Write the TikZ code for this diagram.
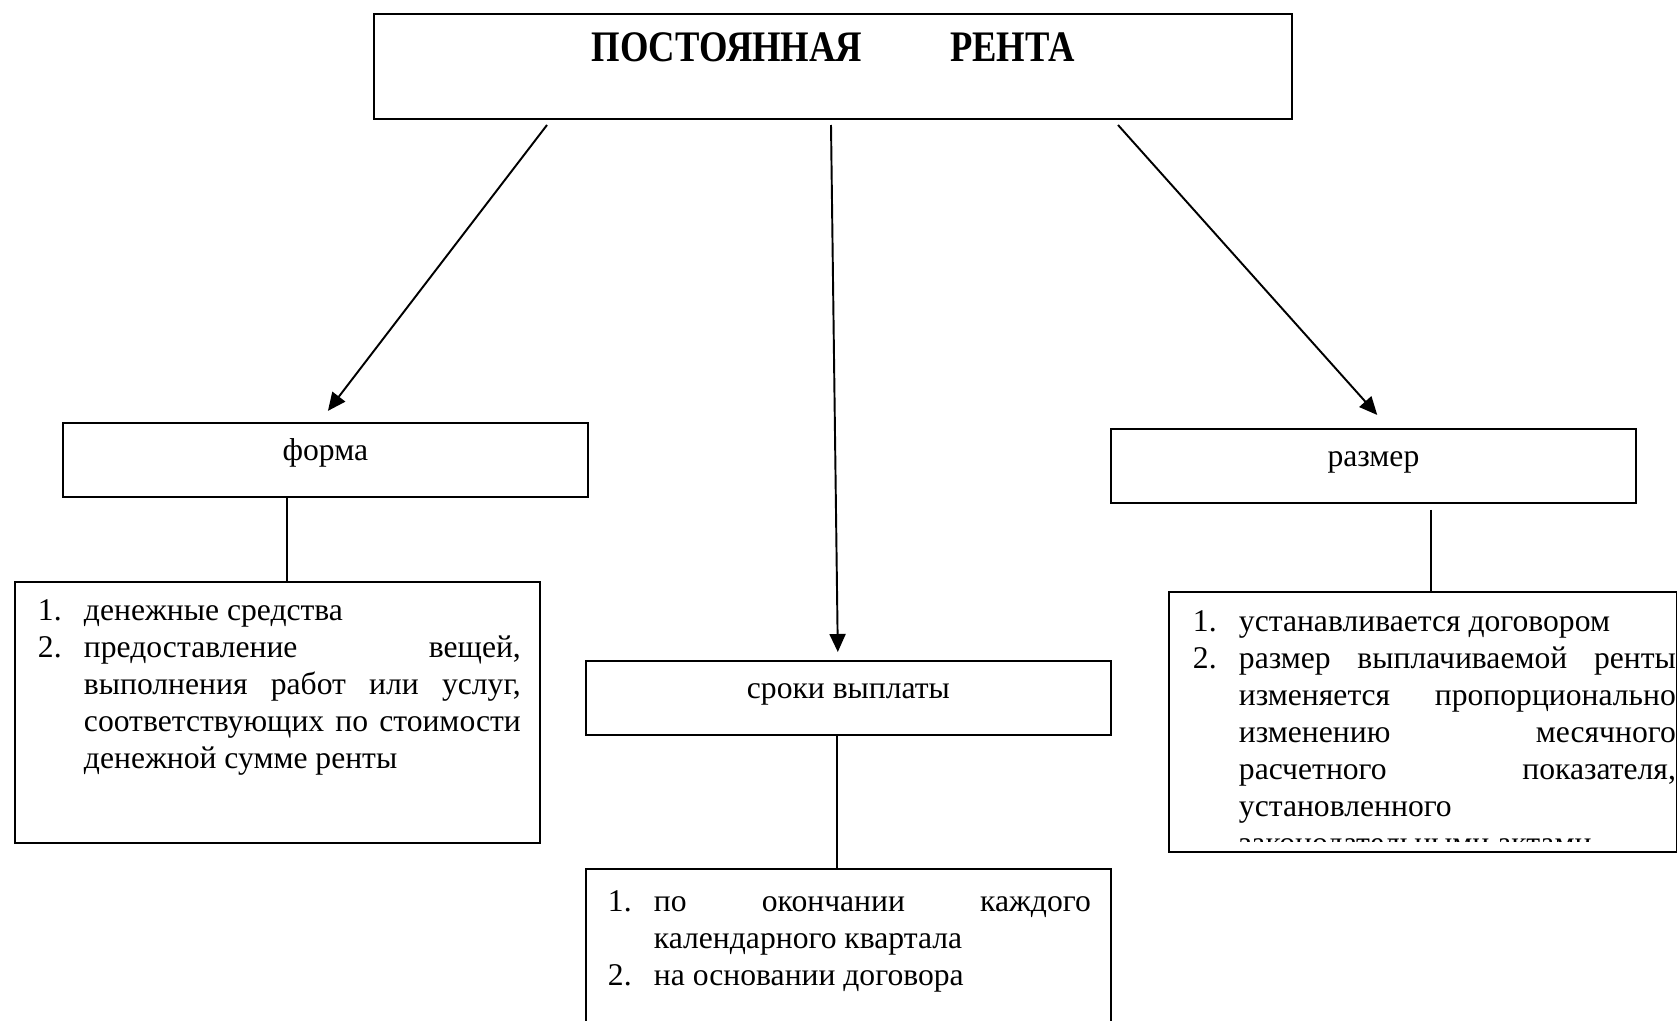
\documentclass[tikz,border=0pt]{standalone}
\usepackage{fontspec}
\setmainfont{Liberation Serif}
\newfontfamily\titlefont[FakeStretch=0.84]{Liberation Serif}
\usetikzlibrary{arrows.meta,calc}

\newcommand{\numitem}[2]{\par\hangindent=0.92cm\hangafter=1\noindent\makebox[0.92cm][l]{#1}#2}
\newcommand{\listtext}[1]{\parbox[t]{9.66cm}{\fontsize{18}{21.06}\selectfont\hyphenpenalty=10000\exhyphenpenalty=10000\tolerance=10000\emergencystretch=2cm #1}}

\begin{document}
\begin{tikzpicture}[x=0.02cm, y=-0.02cm, line width=1.1pt,
	main/.style = {draw, inner sep=0pt, minimum width=10.5cm, text height=0.76cm, text depth=0.72cm, font=\fontsize{18}{21.06}\selectfont},
	box/.style = {draw, inner sep=0pt, minimum width=10.5cm},
	arr/.style = {-{Triangle[length=0.36cm, width=0.32cm]}}]
	\useasboundingbox (0,0) rectangle (1677,1021);
	\node[draw, inner sep=0pt, minimum width=18.36cm, text height=0.96cm, text depth=1.14cm, anchor=north] (1) at (833,13) {\titlefont\fontsize{24.8}{30}\selectfont\bfseries ПОСТОЯННАЯ\hspace{1.76cm}РЕНТА};
	\node[main, anchor=north west] (2) at (62,422) {форма};
	\node[main, anchor=north west] (3) at (1110,428) {размер};
	\node[main, anchor=north west] (4) at (585,660) {сроки выплаты};
	\node[box, minimum height=5.22cm, anchor=north west] (5) at (14,581) {};
	\node[box, minimum height=4cm, anchor=north west] (6) at (585,868) {};
	\node[box, minimum width=10.16cm, minimum height=5.2cm, anchor=north west] (7) at (1168,591) {};
	\node[inner sep=0pt, anchor=base west] (8) at (37,620) {\listtext{%
		\numitem{1.}{денежные средства}
		\numitem{2.}{предоставление вещей,\linebreak выполнения работ или услуг,\linebreak соответствующих по стоимости\linebreak денежной сумме ренты}}};
	\node[inner sep=0pt, anchor=base west] (9) at (607,911) {\listtext{%
		\numitem{1.}{по окончании каждого\linebreak календарного квартала}
		\numitem{2.}{на основании договора}}};
	\begin{scope}
		\clip (7.north west) rectangle ([yshift=0.22cm]7.south east);
		\node[inner sep=0pt, anchor=base west] (10) at (1192,631) {\listtext{%
			\numitem{1.}{устанавливается договором}
			\numitem{2.}{размер выплачиваемой ренты\linebreak изменяется пропорционально\linebreak изменению месячного\linebreak расчетного показателя,\linebreak установленного\newline законодательными актами}}};
	\end{scope}
	\coordinate (a) at (547,125);
	\coordinate (b) at (831,125);
	\coordinate (c) at (1118,125);
	\draw[arr, shorten >=0.28cm] (a) -- ([xshift=-0.12cm]2.north);
	\draw[arr, shorten >=0.16cm] (b) -- ([xshift=-0.21cm]4.north);
	\draw[arr, shorten >=0.35cm] (c) -- ([xshift=0.31cm]3.north);
	\draw ([xshift=-0.77cm]2.south) -- ([xshift=-0.77cm]2.south |- 5.north);
	\draw ([xshift=-0.23cm]4.south) -- ([xshift=-0.23cm]4.south |- 6.north);
	\draw ([xshift=1.15cm, yshift=-0.12cm]3.south) -- ([xshift=1.15cm]3.south |- 7.north);
\end{tikzpicture}
\end{document}
